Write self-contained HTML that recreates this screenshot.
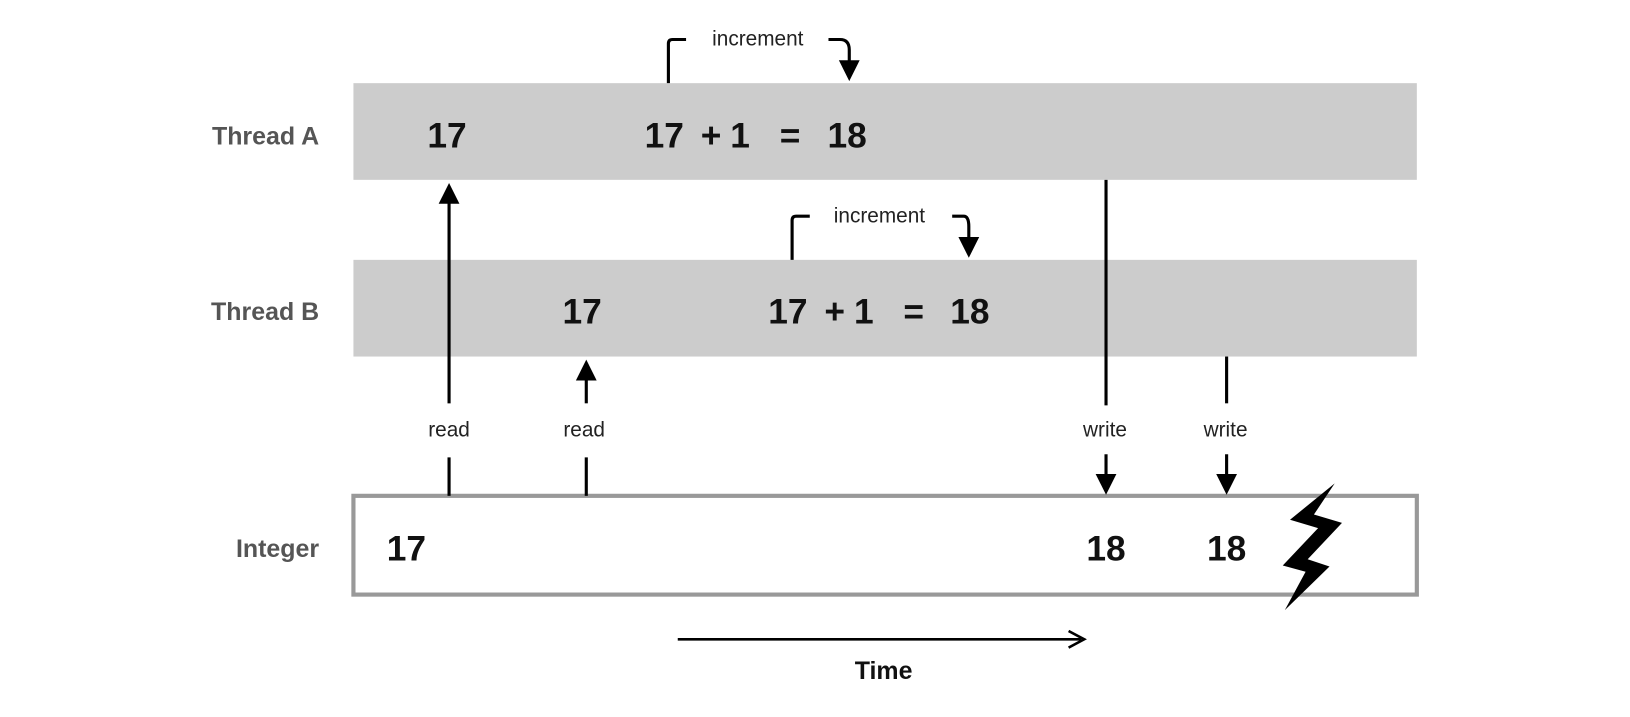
<!DOCTYPE html>
<html><head><meta charset="utf-8"><style>html,body{margin:0;padding:0;background:#fff}</style></head>
<body>
<svg width="1630" height="712" viewBox="0 0 1630 712" xmlns="http://www.w3.org/2000/svg" font-family="Liberation Sans, sans-serif">
<g transform="scale(1.0395)">
<rect x="340" y="80" width="1023" height="93" fill="#cccccc"/>
<rect x="340" y="250" width="1023" height="93" fill="#cccccc"/>
<rect x="340" y="477" width="1023" height="95" fill="#fff" stroke="#999" stroke-width="4"/>
<g font-weight="bold" fill="#555" font-size="24" text-anchor="end">
<text x="307" y="139">Thread A</text>
<text x="307" y="308">Thread B</text>
<text x="307" y="536">Integer</text>
</g>
<g font-weight="bold" fill="#111" font-size="34" text-anchor="middle">
<text x="430" y="142">17</text>
<text x="639" y="142">17</text>
<text x="684" y="142">+</text>
<text x="712" y="142">1</text>
<text x="760" y="142">=</text>
<text x="815" y="142">18</text>
<text x="560" y="311">17</text>
<text x="758" y="311">17</text>
<text x="803" y="311">+</text>
<text x="831" y="311">1</text>
<text x="879" y="311">=</text>
<text x="933" y="311">18</text>
<text x="391" y="539">17</text>
<text x="1064" y="539">18</text>
<text x="1180" y="539">18</text>
</g>
<g stroke="#000" stroke-width="3" fill="none">
<path d="M643,80 V42 Q643,38 647,38 H660"/>
<path d="M797,38 H808 Q817,38 817,48 V60"/>
<path d="M762,250 V212 Q762,208 766,208 H779"/>
<path d="M916,208 H927 Q932,208 932,218 V230"/>
<line x1="432" y1="477" x2="432" y2="440"/>
<line x1="432" y1="388" x2="432" y2="195"/>
<line x1="564" y1="477" x2="564" y2="440"/>
<line x1="564" y1="388" x2="564" y2="365"/>
<line x1="1064" y1="173" x2="1064" y2="390"/>
<line x1="1064" y1="437" x2="1064" y2="460"/>
<line x1="1180" y1="343" x2="1180" y2="388"/>
<line x1="1180" y1="437" x2="1180" y2="460"/>
<line x1="652" y1="615" x2="1040" y2="615" stroke-width="2.5"/>
<path d="M1028,607 L1043,615 L1028,623" stroke-width="2.5"/>
</g>
<g fill="#000">
<path d="M807,58 L827,58 L817,78 Z"/>
<path d="M922,228 L942,228 L932,248 Z"/>
<path d="M422,196 L442,196 L432,176 Z"/>
<path d="M554,366 L574,366 L564,346 Z"/>
<path d="M1054,456 L1074,456 L1064,476 Z"/>
<path d="M1170,456 L1190,456 L1180,476 Z"/>
<polygon points="1284,465 1241,500 1268,508 1234,544 1256,550 1236,587 1279,545 1258,538 1291,503 1264,495"/>
</g>
<g font-size="20" fill="#222" text-anchor="middle">
<text x="729" y="44">increment</text>
<text x="846" y="214">increment</text>
<text x="432" y="420">read</text>
<text x="562" y="420">read</text>
<text x="1063" y="420">write</text>
<text x="1179" y="420">write</text>
</g>
<text x="850" y="653" font-size="24" font-weight="bold" text-anchor="middle" fill="#111">Time</text>
</g>
</svg>
</body></html>
